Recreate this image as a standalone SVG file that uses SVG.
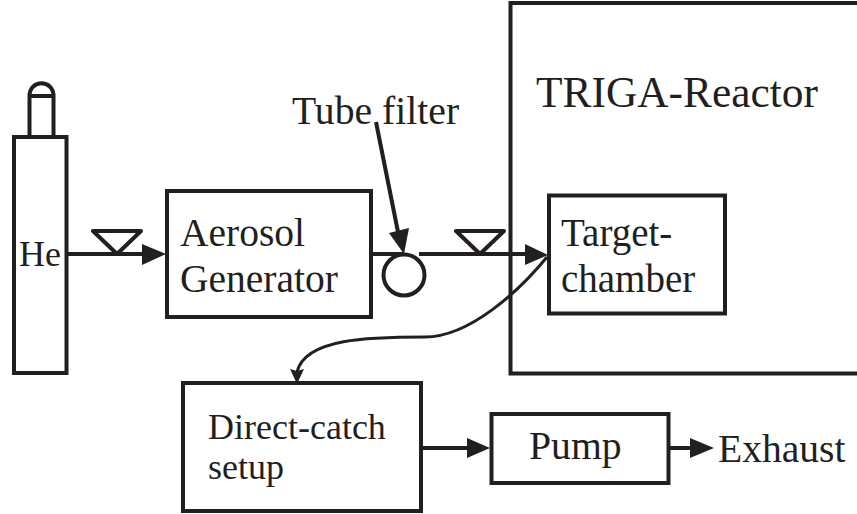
<svg xmlns="http://www.w3.org/2000/svg" width="857" height="514" viewBox="0 0 857 514">
<style>
.b{fill:none;stroke:#231f20;stroke-width:4}
.c{fill:none;stroke:#231f20;stroke-width:4}
.t{font-family:"Liberation Serif",serif;fill:#231f20}
.h{fill:#231f20;stroke:none}
</style>
<rect width="857" height="514" fill="#fff"/>
<g id="he-cylinder">
<rect class="b" x="14" y="137" width="52.500" height="236"/>
<path class="b" d="M29.500 136V96H53.500V136M29.500 96C29.500 79 53.500 79 53.500 96"/>
<text class="t" x="19" y="266" font-size="36">He</text>
</g>
<g id="aerosol-generator">
<rect class="b" x="167" y="191" width="204" height="126"/>
<text class="t" x="180" y="246" font-size="39.500">Aerosol</text>
<text class="t" x="180" y="291.500" font-size="39.500">Generator</text>
</g>
<g id="tube-filter">
<circle class="b" cx="404" cy="275" r="20.500"/>
<text class="t" x="292" y="124" font-size="39.700">Tube filter</text>
</g>
<g id="trigarector">
<path class="b" d="M857 3H510.500V373.500H857"/>
<text class="t" x="536" y="107" font-size="43.400">TRIGA-Reactor</text>
</g>
<g id="target-chamber">
<rect class="b" x="549" y="195.500" width="176" height="118"/>
<text class="t" x="561" y="246" font-size="39">Target-</text>
<text class="t" x="561" y="292" font-size="39">chamber</text>
</g>
<g id="direct-catch">
<rect class="b" x="183" y="383" width="238" height="128"/>
<text class="t" x="208" y="439" font-size="36">Direct-catch</text>
<text class="t" x="208" y="479" font-size="36">setup</text>
</g>
<g id="pump">
<rect class="b" x="491.500" y="414" width="177" height="69"/>
<text class="t" x="529" y="459" font-size="39.700">Pump</text>
</g>
<text id="exhaust" class="t" x="718" y="462" font-size="39.600">Exhaust</text>
<g id="connectors">
<path class="c" d="M68 254H144"/>
<path class="h" d="M166 254L142 244V265Z"/>
<path class="c" d="M93 231H141L117 254ZM456 231H504L480 254Z" stroke-linejoin="round"/>
<path class="c" d="M372 254H404M419 254H530"/>
<path class="h" d="M548 255L525 244V265Z"/>
<path class="c" d="M376 122L398 232"/>
<path class="h" d="M404 254L389 233L409 228Z"/>
<path class="c" style="stroke-width:3" d="M547 257C520 290 470 337 425 337C370 337 305 338 297 372"/>
<path class="h" d="M297 384L290 369L297 371L304 369Z"/>
<path class="c" d="M422 448H470"/>
<path class="h" d="M490 448L467 438V458Z"/>
<path class="c" d="M670 448H695"/>
<path class="h" d="M714 448L690 438V458Z"/>
</g>
</svg>
